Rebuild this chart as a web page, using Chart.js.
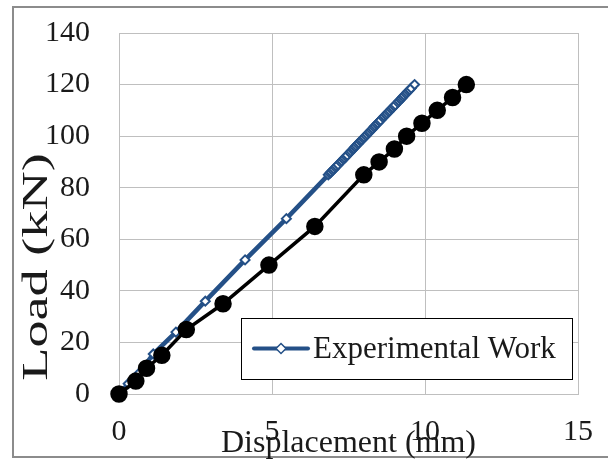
<!DOCTYPE html>
<html>
<head>
<meta charset="utf-8">
<script src="https://cdn.jsdelivr.net/npm/chart.js@4.4.1/dist/chart.umd.min.js"></script>
<style>
  html, body { margin: 0; padding: 0; background: #ffffff; }
  #wrap { width: 608px; height: 467px; position: relative; }
</style>
</head>
<body>
<div id="wrap"><canvas id="c" width="608" height="467"></canvas></div>
<script>
// ---- data ----
const xTicks = [0, 5, 10, 15];
const yTicks = [0, 20, 40, 60, 80, 100, 120, 140];

// Experimental Work (blue, densely sampled above ~85 kN)
const expDisp = [0, 0.3, 0.65, 1.12, 1.86, 2.82, 4.12, 5.47,
  6.84, 6.89, 6.93, 6.98, 7.02, 7.07, 7.11, 7.16,
  7.24, 7.28, 7.33, 7.37, 7.42, 7.46,
  7.54, 7.58, 7.63, 7.67, 7.71, 7.75, 7.80, 7.84, 7.89, 7.93, 7.98, 8.02, 8.07, 8.11, 8.16, 8.20, 8.25, 8.29, 8.33, 8.37, 8.42, 8.46, 8.51, 8.55,
  8.63, 8.67, 8.72, 8.76, 8.81, 8.85, 8.90, 8.94, 8.99, 9.03,
  9.11, 9.15, 9.20, 9.24, 9.28, 9.32, 9.37, 9.41, 9.46, 9.50, 9.55,
  9.66];
const expLoad = [0, 4, 8, 15.5, 24, 36, 52, 68,
  85, 85.6, 86.1, 86.7, 87.2, 87.8, 88.3, 88.9,
  89.9, 90.4, 91.0, 91.5, 92.1, 92.6,
  93.6, 94.1, 94.7, 95.2, 95.8, 96.3, 96.9, 97.4, 98.0, 98.5, 99.1, 99.6, 100.2, 100.7, 101.3, 101.8, 102.4, 102.9, 103.5, 104.0, 104.6, 105.1, 105.7, 106.2,
  107.2, 107.7, 108.3, 108.8, 109.4, 109.9, 110.5, 111.0, 111.6, 112.1,
  113.1, 113.6, 114.2, 114.7, 115.3, 115.8, 116.4, 116.9, 117.5, 118.0, 118.6,
  120];

// second (black) series, no legend entry in the reference
const anaDisp = [0, 0.55, 0.9, 1.4, 2.2, 3.4, 4.9, 6.4, 8.0, 8.5, 9.0, 9.4, 9.9, 10.4, 10.9, 11.35];
const anaLoad = [0, 5, 10, 15, 25, 35, 50, 65, 85, 90, 95, 100, 105, 110, 115, 120];

const legendLabel = "Experimental Work";
const xTitle = "Displacement (mm)";
const yTitle = "Load (kN)";

const BLUE = '#245087';
const SERIF = '"Liberation Serif", "Times New Roman", serif';

const toPts = (xs, ys) => xs.map((x, i) => ({ x: x, y: ys[i] }));

const decor = {
  id: 'decor',
  beforeDraw(chart) {
    const ctx = chart.ctx;
    ctx.save();
    ctx.fillStyle = '#ffffff';
    ctx.fillRect(0, 0, chart.width, chart.height);
    ctx.strokeStyle = '#8c8c8c';
    ctx.lineWidth = 2;
    ctx.strokeRect(13, 7, 700, 450);
    ctx.restore();
  },
  afterDraw(chart) {
    const ctx = chart.ctx;
    const ca = chart.chartArea;
    ctx.save();
    // axis titles
    ctx.fillStyle = '#1a1a1a';
    ctx.textAlign = 'center';
    ctx.textBaseline = 'middle';
    ctx.font = '32px ' + SERIF;
    ctx.fillText(xTitle, (ca.left + ca.right) / 2, 444);
    ctx.save();
    ctx.translate(38, 267);
    ctx.rotate(-Math.PI / 2);
    ctx.scale(1.55, 1);
    ctx.font = '35px ' + SERIF;
    ctx.fillText(yTitle, 0, 0);
    ctx.restore();

    // legend box
    const bx = 241, by = 318, bw = 331, bh = 61;
    ctx.fillStyle = '#ffffff';
    ctx.fillRect(bx, by, bw, bh);
    ctx.strokeStyle = '#000000';
    ctx.lineWidth = 1;
    ctx.strokeRect(bx + 0.5, by + 0.5, bw, bh);
    const ly = by + bh / 2;
    ctx.strokeStyle = BLUE;
    ctx.lineWidth = 4;
    ctx.lineCap = 'round';
    ctx.beginPath();
    ctx.moveTo(254, ly);
    ctx.lineTo(308, ly);
    ctx.stroke();
    // diamond marker
    ctx.fillStyle = '#ffffff';
    ctx.lineWidth = 1.5;
    ctx.beginPath();
    ctx.moveTo(281, ly - 5);
    ctx.lineTo(286, ly);
    ctx.lineTo(281, ly + 5);
    ctx.lineTo(276, ly);
    ctx.closePath();
    ctx.fill();
    ctx.stroke();
    ctx.fillStyle = '#1a1a1a';
    ctx.textAlign = 'left';
    ctx.font = '31px ' + SERIF;
    ctx.fillText(legendLabel, 313, ly + 1);
    ctx.restore();
  }
};

new Chart(document.getElementById('c'), {
  type: 'scatter',
  data: {
    datasets: [
      {
        label: 'Analytical',
        data: toPts(anaDisp, anaLoad),
        showLine: true,
        clip: false,
        borderColor: '#000000',
        backgroundColor: '#000000',
        borderWidth: 3.5,
        pointRadius: 7,
        pointHoverRadius: 7,
        pointBackgroundColor: '#000000',
        pointBorderColor: '#000000',
        order: 0
      },
      {
        label: legendLabel,
        data: toPts(expDisp, expLoad),
        showLine: true,
        clip: false,
        borderColor: BLUE,
        backgroundColor: BLUE,
        borderWidth: 4.5,
        pointStyle: 'rectRot',
        pointRadius: 4.5,
        pointHoverRadius: 4.5,
        pointBackgroundColor: '#ffffff',
        pointBorderColor: BLUE,
        pointBorderWidth: 2,
        order: 1
      }
    ]
  },
  options: {
    responsive: false,
    animation: false,
    layout: { padding: { left: 0, top: 33, right: 30, bottom: 0 } },
    plugins: { legend: { display: false }, tooltip: { enabled: false } },
    scales: {
      x: {
        type: 'linear',
        min: 0, max: 15,
        afterFit: (s) => { s.height = 73; s.paddingLeft = 0; s.paddingRight = 0; },
        afterBuildTicks: (s) => { s.ticks = xTicks.map(v => ({ value: v })); },
        ticks: { font: { family: SERIF, size: 30 }, color: '#1a1a1a', padding: 20, maxRotation: 0 },
        grid: { color: '#bfbfbf', lineWidth: 1, drawTicks: false },
        border: { color: '#bfbfbf' }
      },
      y: {
        type: 'linear',
        min: 0, max: 140,
        afterFit: (s) => { s.width = 119; s.paddingTop = 0; s.paddingBottom = 0; },
        afterBuildTicks: (s) => { s.ticks = yTicks.map(v => ({ value: v })); },
        ticks: { font: { family: SERIF, size: 30 }, color: '#1a1a1a', padding: 29 },
        grid: { color: '#bfbfbf', lineWidth: 1, drawTicks: false },
        border: { color: '#bfbfbf' }
      }
    }
  },
  plugins: [decor]
});
</script>
</body>
</html>
